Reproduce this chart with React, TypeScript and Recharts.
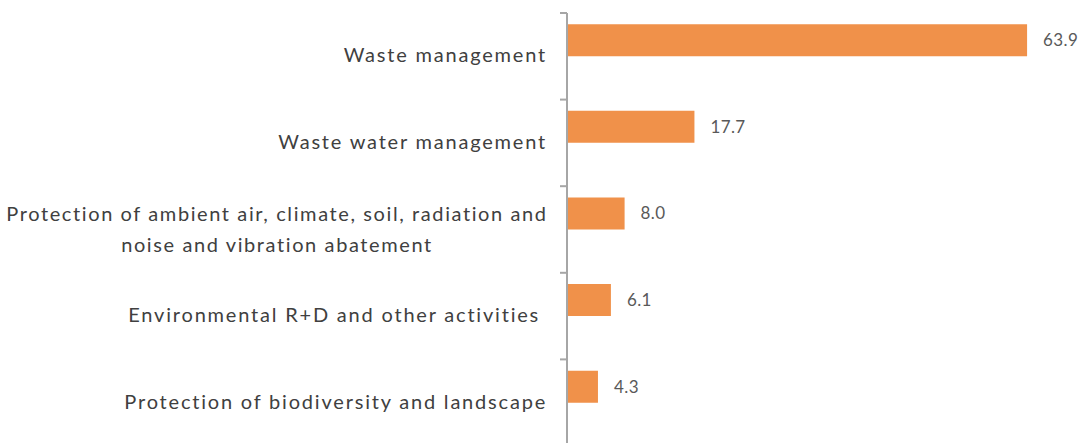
import { BarChart, Bar, XAxis, YAxis, LabelList } from 'recharts'

// Environmental protection expenditure shares (%)
const categories = [
  'Waste management',
  'Waste water management',
  'Protection of ambient air, climate, soil, radiation and|noise and vibration abatement',
  'Environmental R+D and other activities ',
  'Protection of biodiversity and landscape',
]
const shares = [63.9, 17.7, 8.0, 6.1, 4.3]

const chartData = categories.map((name, i) => ({ name, share: shares[i] }))

const TEXT = '#404040'
const FONT = 'Lato, "Noto Sans", sans-serif'
const CHART_H = 446
const TOP = 13
const BAND = (CHART_H - TOP) / categories.length
const LABEL_GAP = 20 // tickMargin (14) + default tickSize (6)

function CategoryTick(props: any) {
  const { x, y, payload } = props
  const lines: string[] = String(payload.value).split('|')
  const axisX = x + LABEL_GAP
  const by = y - BAND / 2
  const mark = <line x1={axisX - 7} x2={axisX} y1={by} y2={by} stroke="#a6a6a6" strokeWidth={2} />
  if (lines.length === 1) {
    return (
      <g>
        {mark}
        <text x={x} y={y} dy={6} textAnchor="end" fill={TEXT} fontSize={20} letterSpacing={1.8}
          fontFamily={FONT} style={{ whiteSpace: 'pre' }}>
          {lines[0]}
        </text>
      </g>
    )
  }
  // two-line label, lines centred on each other
  const cx = axisX - 290
  return (
    <g>
      {mark}
      <text textAnchor="middle" fill={TEXT} fontSize={20} letterSpacing={1.6} fontFamily={FONT}>
        <tspan x={cx} y={y - 15 + 6}>{lines[0]}</tspan>
        <tspan x={cx} y={y + 16 + 6}>{lines[1]}</tspan>
      </text>
    </g>
  )
}

export default function App() {
  return (
    <div style={{ position: 'absolute', left: 0, top: 0, width: 1089, height: 443, overflow: 'hidden', background: '#fff' }}>
      <BarChart
        width={1089}
        height={CHART_H}
        data={chartData}
        layout="vertical"
        margin={{ top: TOP, right: 18, bottom: 0, left: 0 }}
        barCategoryGap="13%"
        barGap={0}
      >
        <XAxis type="number" domain={[0, 70]} hide />
        <YAxis
          type="category"
          dataKey="name"
          width={567}
          axisLine={{ stroke: '#a6a6a6', strokeWidth: 2 }}
          tickLine={false}
          tick={<CategoryTick />}
          tickMargin={14}
          interval={0}
        />
        <Bar dataKey="share" fill="#f0914a" isAnimationActive={false}>
          <LabelList
            dataKey="share"
            position="right"
            offset={16}
            formatter={(v: any) => Number(v).toFixed(1)}
            fill="#595959"
            fontSize={17}
            letterSpacing={0.4}
            fontFamily={FONT}
          />
        </Bar>
        {/* empty second series in the original workbook, reserves the lower half of each group */}
        <Bar dataKey="blank" fill="none" isAnimationActive={false} />
      </BarChart>
    </div>
  )
}
